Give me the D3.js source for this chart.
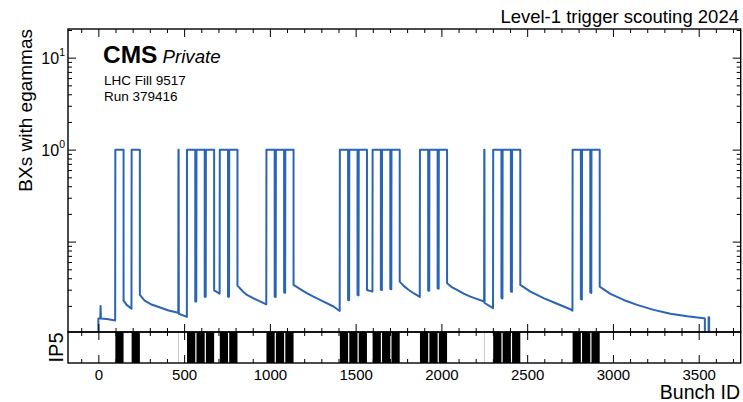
<!DOCTYPE html>
<html>
<head>
<meta charset="utf-8">
<script src="https://cdn.jsdelivr.net/npm/d3@7"></script>
<style>
  body { margin: 0; background: #fff; }
  svg { font-family: "Liberation Sans", Arial, sans-serif; }
</style>
</head>
<body>
<div id="wrap"></div>
<script>
const trains = [
  [99, 146], [194, 241],
  [517, 564], [572, 619], [627, 674],
  [708, 755], [763, 810],
  [980, 1027], [1035, 1082], [1090, 1137],
  [1408, 1455], [1463, 1510], [1518, 1565],
  [1599, 1646], [1654, 1701], [1709, 1756],
  [1875, 1922], [1930, 1977], [1985, 2032],
  [2302, 2349], [2357, 2404], [2412, 2459],
  [2765, 2812], [2820, 2867], [2875, 2922],
];

//  Lone bunches drawn in grey in the IP5 strip
const singleBunches = [467, 2250];

//  Level of the curve in each gap between trains, [bunch, value] pairs.
//  One list before the first train, one after each train.
const gapLevels = [
  [[0, 0.001], [0, 0.0146], [11, 0.0146], [13, 0.0200], [15, 0.0146], [50, 0.0144], [98, 0.0139]],
  [[147, 0.0228], [165, 0.0205], [193, 0.0186]],
  [[242, 0.0263], [270, 0.0228], [310, 0.0207], [360, 0.0192], [410, 0.0178], [466, 0.0168],
   [467, 1], [468, 1], [469, 0.0164], [516, 0.0152]],
  [[565, 0.0223], [571, 0.0223]],
  [[620, 0.0252], [626, 0.0252]],
  [[675, 0.0295], [707, 0.0272]],
  [[756, 0.0252], [762, 0.0252]],
  [[811, 0.0332], [840, 0.0290], [866, 0.0263], [924, 0.0232], [979, 0.0208]],
  [[1028, 0.0252], [1034, 0.0250]],
  [[1083, 0.0280], [1089, 0.0278]],
  [[1138, 0.0338], [1177, 0.0305], [1215, 0.0275], [1254, 0.0252], [1313, 0.0223], [1371, 0.0197], [1407, 0.0176]],
  [[1456, 0.0232], [1462, 0.0230]],
  [[1511, 0.0263], [1517, 0.0260]],
  [[1566, 0.0298], [1598, 0.0286]],
  [[1647, 0.0300], [1653, 0.0298]],
  [[1702, 0.0305], [1708, 0.0303]],
  [[1757, 0.0367], [1780, 0.0330], [1810, 0.0298], [1840, 0.0273], [1874, 0.0250]],
  [[1923, 0.0294], [1929, 0.0292]],
  [[1978, 0.0310], [1984, 0.0308]],
  [[2033, 0.0353], [2060, 0.0320], [2091, 0.0298], [2130, 0.0272], [2169, 0.0252], [2210, 0.0237], [2249, 0.0223],
   [2250, 1], [2251, 1], [2252, 0.0215], [2301, 0.0189]],
  [[2350, 0.0243], [2356, 0.0241]],
  [[2405, 0.0286], [2411, 0.0284]],
  [[2460, 0.0338], [2519, 0.0286], [2596, 0.0243], [2674, 0.0211], [2752, 0.0184], [2764, 0.0177]],
  [[2813, 0.0237], [2819, 0.0235]],
  [[2868, 0.0279], [2874, 0.0277]],
  [[2923, 0.0324], [2985, 0.0270], [3063, 0.0232], [3141, 0.0205], [3238, 0.0181], [3335, 0.0164],
   [3433, 0.0154], [3530, 0.0147], [3536, 0.0146], [3537, 0.001], [3557, 0.001], [3558, 0.0150],
   [3561, 0.0150], [3562, 0.001], [3563, 0.001]],
];

const xMajorTicks = [0, 500, 1000, 1500, 2000, 2500, 3000, 3500];
const yMajorTicks = [0.1, 1, 10];
const yLabelTicks = [1, 10];

//  Layout
const margin = { top: 29, left: 68 },
  width = 672.7,
  topH = 303,
  ipH = 31;

const x = d3.scaleLinear().domain([-177, 3745]).range([0, width]);
const y = d3.scaleLog().domain([0.0104, 20.5]).range([topH, 0]);

const xMinor = d3.range(-100, 3701, 100).filter((v) => v % 500 !== 0);
const yMinor = [0.01, 0.1, 1, 10]
  .flatMap((dec) => d3.range(2, 10).map((k) => k * dec))
  .filter((v) => v > 0.0104 && v < 20.5);

const svg = d3
  .select("#wrap")
  .append("svg")
  .attr("width", 743)
  .attr("height", 402);

const g = svg.append("g").attr("transform", `translate(${margin.left},${margin.top})`);

svg.append("defs").append("clipPath").attr("id", "clipTop")
  .append("rect").attr("width", width).attr("height", topH);

//  Build the curve: gap levels, then each train at 1
const profile = [];
gapLevels.forEach((gap, i) => {
  gap.forEach((p) => profile.push(p));
  if (i < trains.length) {
    profile.push([trains[i][0], 1], [trains[i][1] + 1, 1]);
  }
});

const line = d3.line().x((d) => x(d[0])).y((d) => y(d[1]));

g.append("path")
  .datum(profile)
  .attr("clip-path", "url(#clipTop)")
  .attr("fill", "none")
  .attr("stroke", "#2a64b4")
  .attr("stroke-width", 2)
  .attr("stroke-linejoin", "round")
  .attr("d", line);

//  IP5 strip
const ip = g.append("g").attr("transform", `translate(0,${topH})`);

ip.selectAll(".single")
  .data(singleBunches)
  .enter()
  .append("line")
  .attr("x1", (d) => x(d + 0.5))
  .attr("x2", (d) => x(d + 0.5))
  .attr("y1", 0)
  .attr("y2", ipH)
  .attr("stroke", "#c8c8c8")
  .attr("stroke-width", 1);

ip.selectAll(".train")
  .data(trains)
  .enter()
  .append("rect")
  .attr("x", (d) => x(d[0]))
  .attr("width", (d) => x(d[1] + 1) - x(d[0]))
  .attr("y", 0)
  .attr("height", ipH)
  .attr("fill", "#000");

//  Ticks pointing inwards on every side
function ticks(axisFn, scale, values, size, tx, ty) {
  const a = axisFn(scale).tickValues(values).tickSizeInner(-size).tickSizeOuter(0).tickFormat("");
  const t = g.append("g").attr("transform", `translate(${tx},${ty})`).call(a);
  t.select(".domain").remove();
  t.selectAll("line").attr("stroke", "#000").attr("stroke-width", 1);
  return t;
}

[[d3.axisTop, 0], [d3.axisBottom, topH], [d3.axisTop, topH], [d3.axisBottom, topH + ipH]].forEach(([fn, ty]) => {
  ticks(fn, x, xMajorTicks, 8, 0, ty);
  ticks(fn, x, xMinor, 4, 0, ty);
});
ticks(d3.axisLeft, y, yMajorTicks, 8, 0, 0);
ticks(d3.axisLeft, y, yMinor, 4, 0, 0);
ticks(d3.axisRight, y, yMajorTicks, 8, width, 0);
ticks(d3.axisRight, y, yMinor, 4, width, 0);

//  Y tick labels as powers of ten
const yLab = g.append("g")
  .call(d3.axisLeft(y).tickValues(yLabelTicks).tickSize(0).tickPadding(3).tickFormat(() => "10"));
yLab.select(".domain").remove();
yLab.selectAll("text")
  .attr("font-family", "Liberation Sans, Arial, sans-serif")
  .attr("font-size", "16px")
  .attr("fill", "#000")
  .attr("dy", "0.36em")
  .append("tspan")
  .attr("dy", "-0.75em")
  .attr("font-size", "10.5px")
  .text((d) => Math.round(Math.log10(d)));

//  X tick labels under the IP5 strip
const xLab = g.append("g")
  .attr("transform", `translate(0,${topH + ipH})`)
  .call(d3.axisBottom(x).tickValues(xMajorTicks).tickSize(0).tickPadding(6).tickFormat(d3.format("d")));
xLab.select(".domain").remove();
xLab.selectAll("text")
  .attr("font-family", "Liberation Sans, Arial, sans-serif")
  .attr("font-size", "15px")
  .attr("fill", "#000");

//  Frames
g.append("rect").attr("width", width).attr("height", topH)
  .attr("fill", "none").attr("stroke", "#000").attr("stroke-width", 1.4);
g.append("rect").attr("y", topH).attr("width", width).attr("height", ipH)
  .attr("fill", "none").attr("stroke", "#000").attr("stroke-width", 1.4);

//  Labels
svg.append("text")
  .attr("transform", "translate(32,29) rotate(-90)")
  .attr("text-anchor", "end")
  .attr("font-size", "19px")
  .text("BXs with egammas");

svg.append("text")
  .attr("transform", `translate(63,${margin.top + topH + ipH / 2}) rotate(-90)`)
  .attr("text-anchor", "middle")
  .attr("font-size", "20px")
  .text("IP5");

svg.append("text")
  .attr("x", 740)
  .attr("y", 399)
  .attr("text-anchor", "end")
  .attr("font-size", "19.5px")
  .text("Bunch ID");

svg.append("text")
  .attr("x", 739)
  .attr("y", 23)
  .attr("text-anchor", "end")
  .attr("font-size", "18.5px")
  .text("Level-1 trigger scouting 2024");

const cms = svg.append("text").attr("x", 103).attr("y", 62.5);
cms.append("tspan").attr("font-weight", "bold").attr("font-size", "24.5px").text("CMS");
cms.append("tspan").attr("dx", "5").attr("font-style", "italic").attr("font-size", "18.7px").text("Private");

svg.append("text").attr("x", 104).attr("y", 85).attr("font-size", "13.5px").text("LHC Fill 9517");
svg.append("text").attr("x", 104).attr("y", 101).attr("font-size", "13.5px").text("Run 379416");
</script>
</body>
</html>
